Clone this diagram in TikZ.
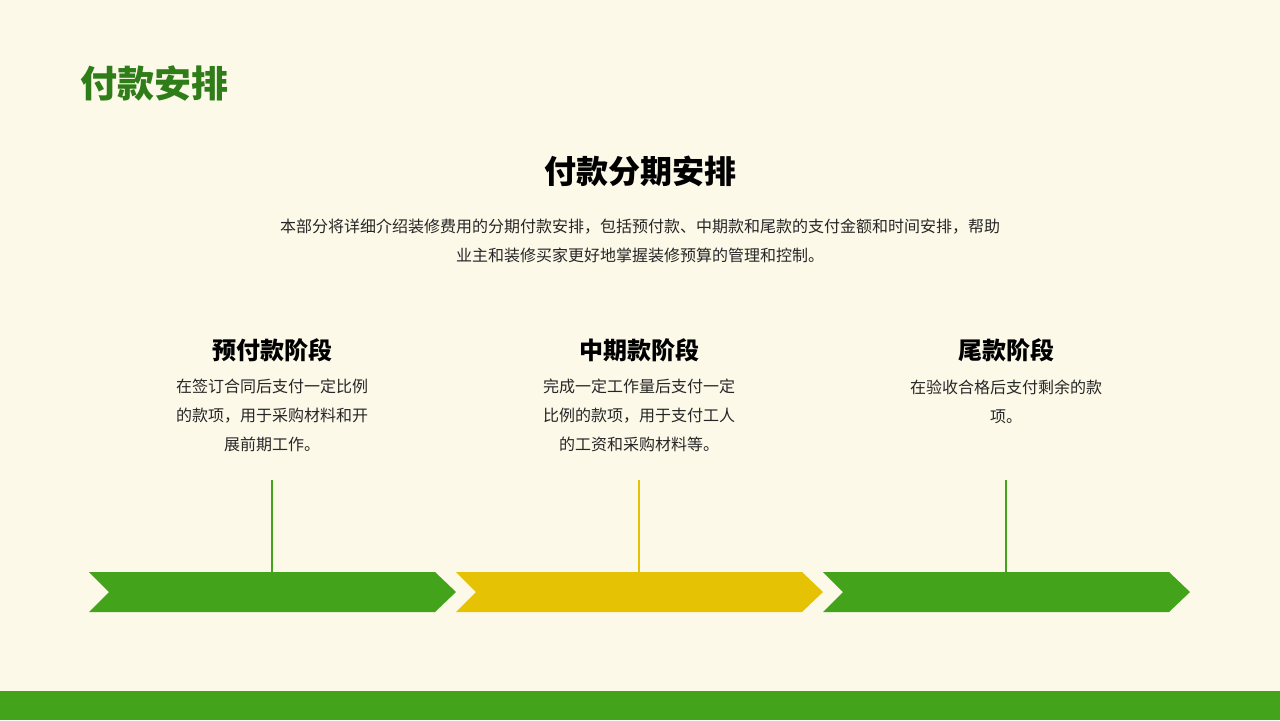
\documentclass[tikz,border=0pt]{standalone}
\usepackage{fontspec}
\setmainfont{Noto Sans CJK SC}
\definecolor{bgcream}{HTML}{FDF9E9}
\definecolor{titlegreen}{HTML}{2F7D18}
\definecolor{stagegreen}{HTML}{43A41C}
\definecolor{stageyellow}{HTML}{E6C205}
\definecolor{textgray}{HTML}{262626}

\begin{document}
\begin{tikzpicture}[x=0.5pt,y=-0.5pt,
    stagehead/.style={font=\fontsize{12}{14}\selectfont\bfseries,text=black,inner sep=0pt},
    stagebody/.style={font=\fontsize{8}{14.5}\selectfont,text=textgray,align=center,inner sep=0pt},
    pin/.style={line width=1pt}
  ]

  \fill[bgcream] (0,0) rectangle (1280,720);
  \useasboundingbox (0,0) rectangle (1280,720);

  \node[anchor=west,inner sep=0pt,text=titlegreen,font=\fontsize{18.5}{20}\selectfont\bfseries] (title) at (80,83) {付款安排};

  \node[inner sep=0pt,font=\fontsize{16}{18}\selectfont\bfseries] (heading) at (640,171) {付款分期安排};
  \node[stagebody] (intro) at (640,240.5) {本部分将详细介绍装修费用的分期付款安排，包括预付款、中期款和尾款的支付金额和时间安排，帮助\\业主和装修买家更好地掌握装修预算的管理和控制。};

  \foreach \i/\c/\col/\head/\body in {
      0/272/stagegreen/预付款阶段/{在签订合同后支付一定比例\\的款项，用于采购材料和开\\展前期工作。},
      1/639/stageyellow/中期款阶段/{完成一定工作量后支付一定\\比例的款项，用于支付工人\\的工资和采购材料等。},
      2/1006/stagegreen/尾款阶段/{在验收合格后支付剩余的款\\项。}} {
    \node[stagehead] (head\i) at (\c,350) {\head};
    \node[stagebody,anchor=north] (body\i) at (\c,379) {\body};
    \fill[\col] (\c-183,572) -- ++(346,0) -- ++(21,20) -- ++(-21,20) -- ++(-346,0) -- ++(20,-20) -- cycle;
    \coordinate (pin\i) at (\c,480);
    \coordinate (top\i) at (\c,572);
    \draw[pin,\col] (pin\i) -- (top\i);
  }

  \fill[stagegreen] (0,691) rectangle (1280,720);

\end{tikzpicture}
\end{document}
